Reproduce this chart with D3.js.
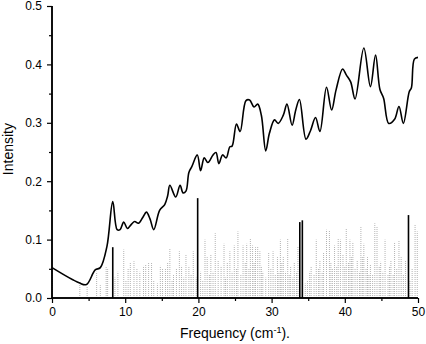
<!DOCTYPE html>
<html>
<head>
<meta charset="utf-8">
<script src="https://cdn.jsdelivr.net/npm/d3@7"></script>
<style>
  body { margin: 0; background: #fff; }
  text { font-family: "Liberation Sans", Arial, sans-serif; }
</style>
</head>
<body>
<svg id="chart"></svg>
<script>
// measured spectrum (black curve)
const specFreq = [0, 3.7, 4.7, 5.9, 6.6, 7.5, 8.3, 8.9, 9.3, 9.8, 10.3, 10.9, 11.3, 11.8, 12.4, 12.9, 13.4, 13.9, 14.7, 15.4, 15.8, 16.1, 16.9, 17.5, 17.9, 18.3, 18.7, 19.1, 19.85, 20.3, 20.8, 21.3, 22.0, 22.4, 22.8, 23.3, 23.8, 24.3, 24.6, 25.2, 25.7, 26.5, 27.0, 27.6, 28.1, 28.6, 29.2, 29.7, 30.4, 30.9, 31.6, 32.1, 32.8, 33.3, 33.8, 34.7, 35.3, 36.0, 36.6, 37.5, 38.2, 38.8, 39.7, 40.2, 40.8, 41.4, 42.6, 43.5, 44.2, 44.8, 45.3, 46.0, 46.8, 47.4, 48.0, 48.8, 49.1, 49.5, 50];
const specInt  = [0.052, 0.026, 0.023, 0.048, 0.052, 0.088, 0.165, 0.117, 0.117, 0.13, 0.119, 0.127, 0.131, 0.128, 0.138, 0.147, 0.135, 0.117, 0.15, 0.16, 0.175, 0.193, 0.173, 0.193, 0.18, 0.183, 0.215, 0.225, 0.245, 0.218, 0.24, 0.232, 0.245, 0.249, 0.23, 0.245, 0.24, 0.259, 0.26, 0.298, 0.285, 0.338, 0.339, 0.327, 0.332, 0.313, 0.252, 0.282, 0.305, 0.299, 0.313, 0.332, 0.296, 0.322, 0.34, 0.272, 0.286, 0.309, 0.285, 0.361, 0.322, 0.356, 0.392, 0.382, 0.37, 0.341, 0.428, 0.362, 0.416, 0.357, 0.342, 0.299, 0.306, 0.328, 0.299, 0.353, 0.36, 0.409, 0.412];

// strong calculated modes (black sticks)
const strongFreq = [8.3, 19.9, 33.85, 34.2, 48.7];
const strongInt  = [0.087, 0.171, 0.13, 0.133, 0.142];

// weak calculated modes (grey dotted sticks)
const weakFreq = [0.05, 3.8, 4.8, 6.1, 6.6, 7.4, 7.6, 8.6, 9.0, 9.8, 10.1, 10.4, 10.7, 11.2, 11.6, 12.0, 12.5, 12.8, 13.2, 13.6, 13.9, 14.4, 14.8, 15.1, 15.5, 15.8, 16.1, 16.4, 16.6, 17.0, 17.4, 17.7, 18.0, 18.3, 18.7, 19.0, 19.3, 19.7, 20.3, 20.6, 20.9, 21.2, 21.5, 21.7, 22.0, 22.3, 22.7, 23.1, 23.5, 23.7, 23.95, 24.3, 24.6, 24.9, 25.2, 25.4, 25.8, 26.1, 26.4, 26.6, 26.9, 27.1, 27.4, 27.6, 27.8, 28.1, 28.4, 28.6, 28.8, 29.2, 29.6, 29.9, 30.2, 30.5, 30.8, 31.0, 31.2, 31.4, 31.6, 31.9, 32.2, 32.4, 32.6, 32.9, 33.1, 33.4, 33.6, 34.6, 34.9, 35.2, 35.4, 35.8, 36.1, 36.4, 36.6, 36.9, 37.1, 37.5, 37.9, 38.1, 38.3, 38.6, 38.9, 39.1, 39.4, 39.75, 40.0, 40.2, 40.5, 40.7, 40.9, 41.1, 41.4, 41.7, 42.0, 42.2, 42.4, 42.6, 42.9, 43.1, 43.3, 43.5, 43.8, 44.1, 44.4, 44.7, 44.9, 45.2, 45.5, 45.9, 46.1, 46.3, 46.6, 46.8, 47.1, 47.4, 47.7, 48.0, 48.3, 48.9, 49.2, 49.6, 49.9];
const weakInt  = [0.05, 0.027, 0.02, 0.045, 0.022, 0.053, 0.05, 0.035, 0.045, 0.083, 0.03, 0.05, 0.06, 0.063, 0.05, 0.045, 0.055, 0.058, 0.06, 0.06, 0.03, 0.025, 0.055, 0.05, 0.05, 0.06, 0.085, 0.03, 0.04, 0.05, 0.08, 0.055, 0.035, 0.075, 0.055, 0.04, 0.08, 0.035, 0.045, 0.03, 0.1, 0.07, 0.04, 0.075, 0.045, 0.111, 0.065, 0.055, 0.093, 0.035, 0.06, 0.08, 0.045, 0.09, 0.05, 0.114, 0.04, 0.09, 0.06, 0.093, 0.05, 0.101, 0.09, 0.06, 0.087, 0.088, 0.08, 0.055, 0.045, 0.035, 0.078, 0.05, 0.08, 0.04, 0.07, 0.045, 0.1, 0.06, 0.07, 0.045, 0.102, 0.04, 0.054, 0.035, 0.06, 0.045, 0.088, 0.025, 0.03, 0.045, 0.054, 0.04, 0.1, 0.05, 0.065, 0.045, 0.078, 0.117, 0.116, 0.06, 0.05, 0.09, 0.055, 0.101, 0.1, 0.074, 0.055, 0.119, 0.06, 0.1, 0.07, 0.096, 0.05, 0.065, 0.045, 0.122, 0.07, 0.093, 0.05, 0.07, 0.04, 0.057, 0.04, 0.128, 0.122, 0.055, 0.062, 0.045, 0.1, 0.04, 0.055, 0.065, 0.04, 0.096, 0.05, 0.099, 0.07, 0.04, 0.065, 0.03, 0.05, 0.125, 0.114];

const xTicks = [0, 10, 20, 30, 40, 50];
const xMinorTicks = [5, 15, 25, 35, 45];
const yTicks = [0.0, 0.1, 0.2, 0.3, 0.4, 0.5];
const yMinorTicks = [0.05, 0.15, 0.25, 0.35, 0.45];

const width = 426, height = 344;
const margin = {top: 6, right: 8, bottom: 46, left: 52};

const svg = d3.select("#chart")
  .attr("width", width)
  .attr("height", height);

const x = d3.scaleLinear().domain([0, 50]).range([margin.left, width - margin.right]);
const y = d3.scaleLinear().domain([0, 0.5]).range([height - margin.bottom, margin.top]);

// grey dotted sticks
svg.append("g")
  .selectAll("line")
  .data(d3.range(weakFreq.length))
  .join("line")
    .attr("x1", i => x(weakFreq[i]))
    .attr("x2", i => x(weakFreq[i]))
    .attr("y1", y(0))
    .attr("y2", i => y(weakInt[i]))
    .attr("stroke", "#b4b4b4")
    .attr("stroke-width", 1)
    .attr("stroke-dasharray", "1,1");

// black sticks
svg.append("g")
  .selectAll("line")
  .data(d3.range(strongFreq.length))
  .join("line")
    .attr("x1", i => x(strongFreq[i]))
    .attr("x2", i => x(strongFreq[i]))
    .attr("y1", y(0))
    .attr("y2", i => y(strongInt[i]))
    .attr("stroke", "#000")
    .attr("stroke-width", 1.6);

// spectrum curve
const line = d3.line()
  .x(i => x(specFreq[i]))
  .y(i => y(specInt[i]))
  .curve(d3.curveCatmullRom.alpha(0.5));

svg.append("path")
  .datum(d3.range(specFreq.length))
  .attr("d", line)
  .attr("fill", "none")
  .attr("stroke", "#000")
  .attr("stroke-width", 1.6);

// axes
const xAxis = svg.append("g")
  .attr("transform", "translate(0," + y(0) + ")")
  .call(d3.axisBottom(x).tickValues(xTicks).tickFormat(d3.format("d")).tickSize(5).tickPadding(4));
xAxis.append("g")
  .call(d3.axisBottom(x).tickValues(xMinorTicks).tickFormat("").tickSize(3));

const yAxis = svg.append("g")
  .attr("transform", "translate(" + x(0) + ",0)")
  .call(d3.axisLeft(y).tickValues(yTicks).tickFormat(d3.format(".1f")).tickSize(5).tickPadding(5));
yAxis.append("g")
  .call(d3.axisLeft(y).tickValues(yMinorTicks).tickFormat("").tickSize(3));

svg.selectAll(".domain").attr("stroke-width", 1.5);
svg.selectAll(".tick line").attr("stroke-width", 1.2);
svg.selectAll(".tick text").attr("font-size", 12).attr("fill", "#000")
  .style("font-family", "'Liberation Sans', Arial, sans-serif");
yAxis.selectAll("path.domain").attr("d", "M0," + y(0) + "V" + y(0.5));
xAxis.selectAll("path.domain").attr("d", "M" + x(0) + ",0H" + x(50));

// axis titles
const xt = svg.append("text")
  .attr("x", x(25))
  .attr("y", height - 6)
  .attr("text-anchor", "middle")
  .attr("font-size", 14);
xt.append("tspan").text("Frequency (cm");
xt.append("tspan").attr("dy", -5).attr("font-size", 9).text("-1");
xt.append("tspan").attr("dy", 5).text(").");

svg.append("text")
  .attr("transform", "translate(13," + y(0.255) + ") rotate(-90)")
  .attr("text-anchor", "middle")
  .attr("font-size", 14)
  .text("Intensity");
</script>
</body>
</html>
